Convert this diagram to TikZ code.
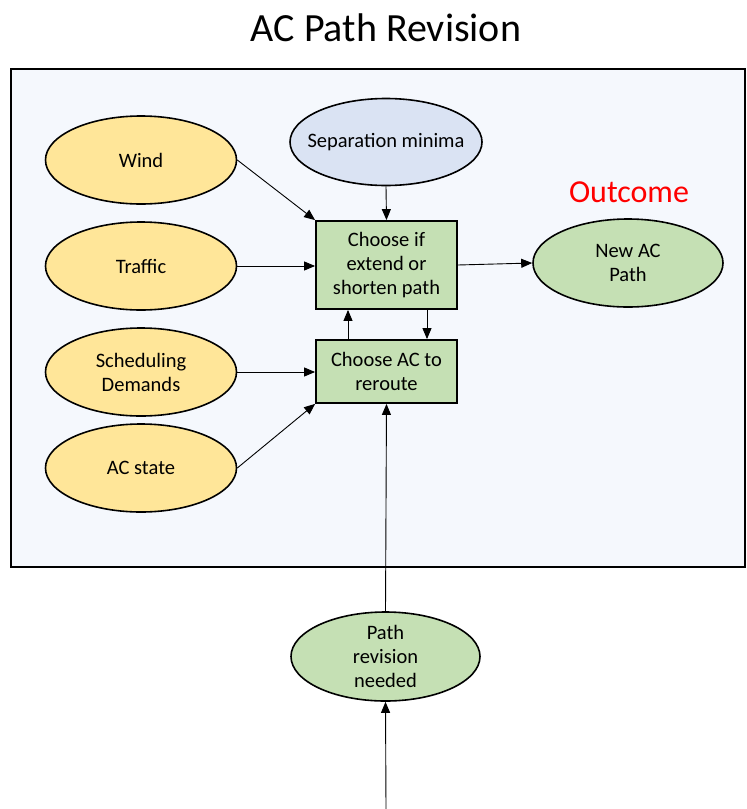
\documentclass[tikz,border=0pt]{standalone}
\usepackage{fontspec}
\setmainfont{Carlito}
\usetikzlibrary{shapes.geometric,arrows.meta}
\definecolor{framefill}{HTML}{F5F8FD}
\definecolor{yellowfill}{HTML}{FFE699}
\definecolor{greenfill}{HTML}{C5E0B4}
\definecolor{bluefill}{HTML}{DAE3F3}
\definecolor{outred}{HTML}{FF0000}
\tikzset{
  txt/.style={font=\fontsize{20.5}{24}\selectfont, align=center, text=black},
  oval/.style={ellipse, draw=black, line width=1.6pt, inner sep=0pt, txt},
  yoval/.style={oval, fill=yellowfill, minimum width=191pt, minimum height=88pt},
  goval/.style={oval, fill=greenfill, minimum width=190pt, minimum height=88pt},
  boval/.style={oval, fill=bluefill, minimum width=192pt, minimum height=87pt},
  gbox/.style={rectangle, draw=black, line width=1.8pt, fill=greenfill, inner sep=0pt, minimum width=141pt, txt},
  arr/.style={-{Triangle[length=11pt,width=9pt]}, line width=0.9pt, draw=black},
}
\begin{document}
\begin{tikzpicture}[x=1pt,y=-1pt]
\useasboundingbox (0,0) rectangle (747,809);
\node[font=\fontsize{40}{46}\selectfont] (title) at (386,28) {AC Path Revision};
\draw[line width=1.5pt, fill=framefill] (11,69) rectangle (745,567);
\node[yoval] (wind) at (141,160) {Wind};
\node[yoval] (traffic) at (141,266) {Traffic};
\node[yoval] (sched) at (141,372) {Scheduling\\Demands};
\node[yoval] (acstate) at (141,468) {AC state};
\node[boval] (sep) at (386,142) {\makebox[0pt][c]{Separation minima}};
\node[gbox, minimum height=88pt] (choose) at (386.5,265) {Choose if\\extend or\\shorten path};
\node[gbox, minimum height=63pt] (chooseac) at (386.5,371.5) {Choose AC to\\reroute};
\node[goval] (newac) at (628,263) {New AC\\Path};
\node[font=\fontsize{32}{38}\selectfont, text=outred] (outcome) at (629,192) {Outcome};
\node[goval, minimum width=189pt, minimum height=89pt] (prn) at (385.5,656.5) {Path\\revision\\needed};
\coordinate (bot) at (386,809);
\draw[arr] (wind.east) -- (choose.north west);
\draw[arr] (traffic.east) -- (traffic.east -| choose.west);
\draw[arr] (sched.east) -- (sched.east -| chooseac.west);
\draw[arr] (acstate.east) -- (chooseac.south west);
\draw[arr] (sep.south) -- (choose.north);
\draw[arr] (choose.east) -- (newac.west);
\draw[arr] ([xshift=-38.5pt]chooseac.north) -- ([xshift=-38.5pt]choose.south);
\draw[arr] ([xshift=40.5pt]choose.south) -- ([xshift=40.5pt]chooseac.north);
\draw[arr] (prn.north) -- (chooseac.south);
\draw[arr] (bot) -- (prn.south);
\end{tikzpicture}
\end{document}
